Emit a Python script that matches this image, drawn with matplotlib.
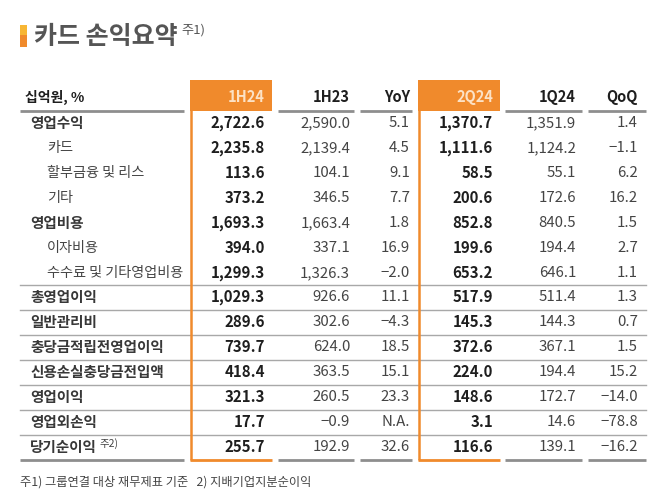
import matplotlib
matplotlib.use("Agg")
import matplotlib.pyplot as plt
from matplotlib.patches import Rectangle

plt.rcParams["font.family"] = ["Noto Sans CJK KR", "DejaVu Sans"]

# ---------------------------------------------------------------------------
# data
# ---------------------------------------------------------------------------
TITLE = "카드 손익요약"
UNIT = "십억원, %"
COLUMNS = ["1H24", "1H23", "YoY", "2Q24", "1Q24", "QoQ"]
HIGHLIGHT = ["1H24", "2Q24"]

labels = ["영업수익", "카드", "할부금융 및 리스", "기타", "영업비용", "이자비용",
          "수수료 및 기타영업비용", "총영업이익", "일반관리비", "충당금적립전영업이익",
          "신용손실충당금전입액", "영업이익", "영업외손익", "당기순이익"]
indent = [0, 1, 1, 1, 0, 1, 1, 0, 0, 0, 0, 0, 0, 0]
label_notes = {"당기순이익": "주2)"}

h1_24 = [2722.6, 2235.8, 113.6, 373.2, 1693.3, 394.0, 1299.3, 1029.3, 289.6, 739.7, 418.4, 321.3, 17.7, 255.7]
h1_23 = [2590.0, 2139.4, 104.1, 346.5, 1663.4, 337.1, 1326.3, 926.6, 302.6, 624.0, 363.5, 260.5, -0.9, 192.9]
yoy = [5.1, 4.5, 9.1, 7.7, 1.8, 16.9, -2.0, 11.1, -4.3, 18.5, 15.1, 23.3, None, 32.6]
q2_24 = [1370.7, 1111.6, 58.5, 200.6, 852.8, 199.6, 653.2, 517.9, 145.3, 372.6, 224.0, 148.6, 3.1, 116.6]
q1_24 = [1351.9, 1124.2, 55.1, 172.6, 840.5, 194.4, 646.1, 511.4, 144.3, 367.1, 194.4, 172.7, 14.6, 139.1]
qoq = [1.4, -1.1, 6.2, 16.2, 1.5, 2.7, 1.1, 1.3, 0.7, 1.5, 15.2, -14.0, -78.8, -16.2]

FOOTNOTE = "주1) 그룹연결 대상 재무제표 기준   2) 지배기업지분순이익"

# ---------------------------------------------------------------------------
# style
# ---------------------------------------------------------------------------
ORANGE = "#F08A2C"
YELLOW = "#F7B634"
PALE = "#FCE2C6"
DARK = "#1E1E1E"
LABEL = "#383838"
TEXT = "#444444"
GREY = "#555555"
LINE = "#A8A8A8"
HEAD_LINE = "#8E8E8E"

# column geometry in pixels: (segment left, segment right, text right edge)
col_geom = [(190, 272, 265), (278, 354, 350), (360, 412, 410),
            (418, 500, 493), (505, 582, 576), (588, 646, 638)]


def fmt(v):
    if v is None:
        return "N.A."
    s = f"{abs(v):,.1f}"
    return ("\u2212" + s) if v < 0 else s


def row_y(i):
    return 123 + 25 * i if i < 7 else 297 + 25 * (i - 7)


fig = plt.figure(figsize=(6.58, 4.98), dpi=100)
ax = fig.add_axes([0, 0, 1, 1])
ax.set_xlim(0, 658)
ax.set_ylim(498, 0)
ax.axis("off")

# title
ax.add_patch(Rectangle((20, 25), 7, 10, color=YELLOW, lw=0))
ax.add_patch(Rectangle((20, 35), 7, 12, color=ORANGE, lw=0))
ax.text(34, 37, TITLE, fontsize=18, color=GREY, va="center", ha="left", fontweight="bold")
ax.text(181, 30, "주1)", fontsize=9.5, color=GREY, va="center", ha="left")

# header
ax.text(25, 97, UNIT, fontsize=10, color=DARK, fontweight="bold", va="center")
ax.plot([20, 184], [111, 111], color=HEAD_LINE, lw=2, solid_capstyle="butt")
for name, (x0, x1, xr) in zip(COLUMNS, col_geom):
    if name in HIGHLIGHT:
        ax.add_patch(Rectangle((x0, 80), x1 - x0, 31, color=ORANGE, lw=0))
        ax.text(xr, 97, name, fontsize=10.5, color=PALE, ha="right", va="center", fontweight="bold")
    else:
        ax.plot([x0, x1], [111, 111], color=HEAD_LINE, lw=2, solid_capstyle="butt")
        ax.text(xr, 97, name, fontsize=10.5, color=DARK, ha="right", va="center", fontweight="bold")

# row separators
ax.plot([20, 646], [285, 285], color=LINE, lw=1)
for i in range(7, len(labels) - 1):
    y = (row_y(i) + row_y(i + 1)) / 2
    ax.plot([20, 646], [y, y], color=LINE, lw=1)

# bottom line
ax.plot([20, 184], [460, 460], color=HEAD_LINE, lw=2, solid_capstyle="butt")
for name, (x0, x1, xr) in zip(COLUMNS, col_geom):
    if name in HIGHLIGHT:
        ax.plot([x0, x1], [460, 460], color=ORANGE, lw=2, solid_capstyle="butt")
        ax.plot([x0 + 1, x0 + 1], [110, 460], color=ORANGE, lw=1.8, solid_capstyle="butt")
    else:
        ax.plot([x0, x1], [460, 460], color=HEAD_LINE, lw=2, solid_capstyle="butt")

# body
series = [h1_24, h1_23, yoy, q2_24, q1_24, qoq]
for i, lab in enumerate(labels):
    y = row_y(i)
    x = 47 if indent[i] else 30
    ax.text(x, y, lab, fontsize=10.5 if not indent[i] else 10.2,
            color=LABEL if not indent[i] else TEXT,
            fontweight="bold" if not indent[i] else "normal", va="center", ha="left")
    if lab in label_notes:
        ax.text(99, y - 3, label_notes[lab], fontsize=7.5, color=TEXT, va="center", ha="left")
    for name, vals, (x0, x1, xr) in zip(COLUMNS, series, col_geom):
        bold = name in HIGHLIGHT
        ax.text(xr, y, fmt(vals[i]), fontsize=10.8, ha="right", va="center",
                color=DARK if bold else TEXT, fontweight="bold" if bold else "light")

ax.text(20, 482, FOOTNOTE, fontsize=8.8, color=TEXT, va="center", ha="left")

fig.savefig("out.png", dpi=100, facecolor="white")
